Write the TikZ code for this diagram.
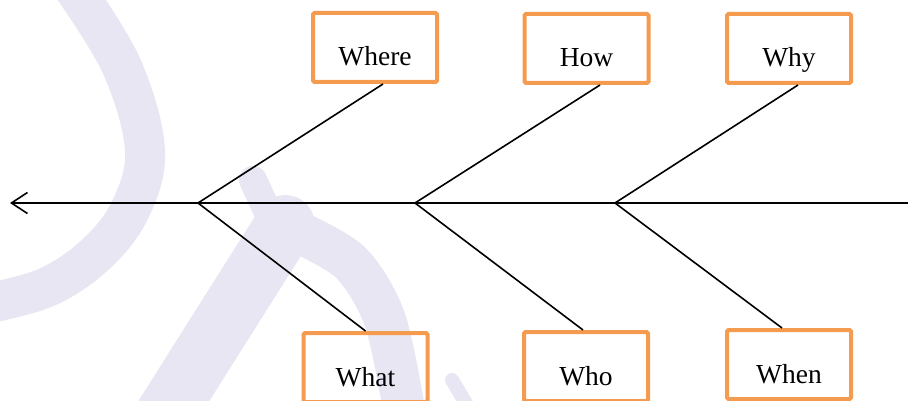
\documentclass[tikz,border=0pt]{standalone}
\usepackage{fontspec}
\setmainfont{Liberation Serif}
\usetikzlibrary{arrows.meta}
\definecolor{boxorange}{HTML}{F59B4F}
\definecolor{wmlilac}{HTML}{E8E6F2}
\tikzset{
  cause/.style={draw=boxorange, line width=4pt, rounded corners=1.5pt, inner sep=0pt,
    minimum width=124pt, text height=53pt, text depth=16pt, anchor=base,
    font=\fontsize{27.5}{30}\selectfont},
  bone/.style={black, line width=1.6pt},
  wmark/.style={draw=wmlilac, line cap=round}
}
\begin{document}
\begin{tikzpicture}[x=1pt,y=-1pt]
\useasboundingbox (0,0) rectangle (908,401);
\clip (0,0) rectangle (908,401);

\draw[wmark, line width=40pt] plot[smooth, tension=0.6] coordinates {(75,-10) (122,67) (145,150) (130,210) (95,255) (45,288) (-20,305)};
\draw[wmark, line width=60pt] (285,225) -- (165,415);
\draw[wmark, line width=28pt] (253,180) -- (275,228);
\draw[wmark, line width=42pt] plot[smooth] coordinates {(290,228) (350,262) (385,320) (405,415)};
\draw[wmark, line width=14pt] (452,380) -- (470,410);

\node[cause] (where) at (375,66) {Where};
\node[cause] (how) at (586.5,67) {How};
\node[cause] (why) at (789,67) {Why};
\node[cause] (what) at (365.5,386) {What};
\node[cause] (who) at (586,385) {Who};
\node[cause] (when) at (789,383) {When};

\coordinate (head) at (10,203);
\coordinate (tail) at (910,203);
\coordinate (j1) at (198,203);
\coordinate (j2) at (415,203);
\coordinate (j3) at (615,203);

\draw[bone, -{Straight Barb[length=16pt,width=21pt]}] (tail) -- (head);
\draw[bone] (j1) -- ([xshift=8pt]where.south);
\draw[bone] (j2) -- ([xshift=13.5pt]how.south);
\draw[bone] (j3) -- ([xshift=9pt]why.south);
\draw[bone] (j1) -- (what.north);
\draw[bone] (j2) -- ([xshift=-3pt]who.north);
\draw[bone] (j3) -- ([xshift=-7pt]when.north);

\end{tikzpicture}
\end{document}
